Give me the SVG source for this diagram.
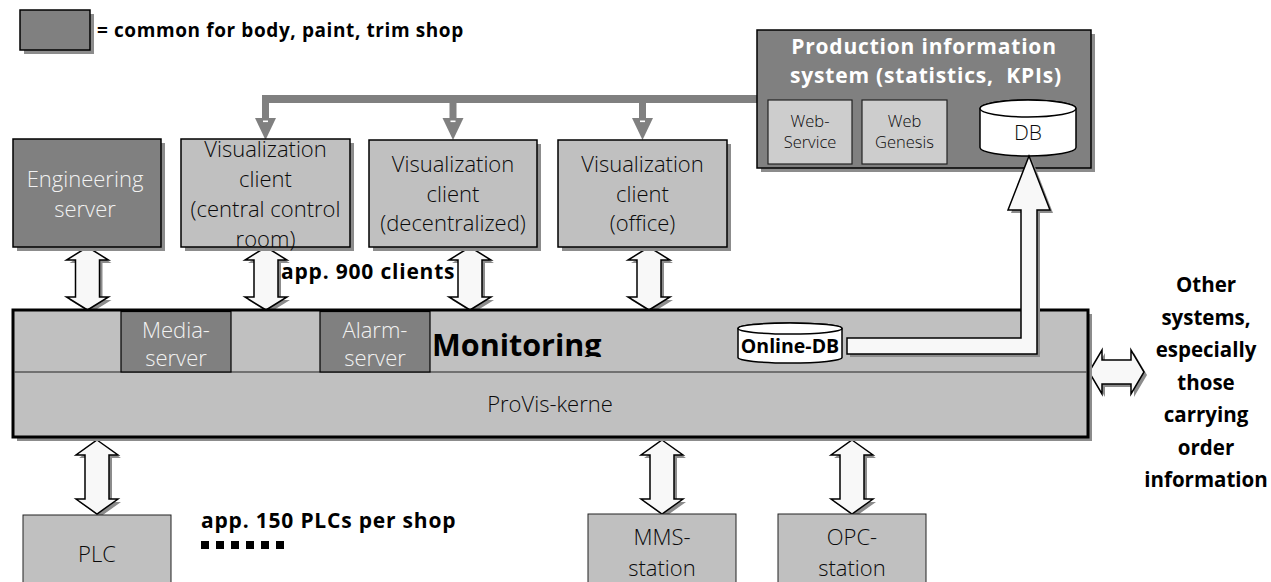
<svg xmlns="http://www.w3.org/2000/svg" width="1271" height="582" viewBox="0 0 1271 582">
  <defs>
    <style>
      .lt { font-family: "Open Sans", "Noto Sans", "Liberation Sans", sans-serif; font-weight: 300; font-size: 22px; fill: #0a0a0a; text-anchor: middle; }
      .lw { font-family: "Open Sans", "Noto Sans", "Liberation Sans", sans-serif; font-weight: 300; font-size: 22px; fill: #f2f2f2; text-anchor: middle; }
      .bd { font-family: "Open Sans", "Noto Sans", "Liberation Sans", sans-serif; font-weight: 700; fill: #000; }
      .sm { font-family: "Open Sans", "Noto Sans", "Liberation Sans", sans-serif; font-weight: 300; font-size: 16.5px; fill: #0a0a0a; text-anchor: middle; }
      .box { fill: #c0c0c0; stroke: #000; stroke-width: 1.5; }
      .dark { fill: #808080; stroke: #000; stroke-width: 1.5; }
      .inner { fill: #cdcdcd; stroke: #222; stroke-width: 1.2; }
      .shadow { fill: #8c8c8c; }
      .plain { fill: #c0c0c0; stroke: #222; stroke-width: 1; }
      .arrow { fill: #f8f8f8; stroke: #000; stroke-width: 1.5; stroke-linejoin: miter; }
      .bus { fill: #808080; }
    </style>
    <clipPath id="monClip">
      <rect x="420" y="312" width="300" height="45"/>
    </clipPath>
  </defs>

  <!-- legend -->
  <g id="legend">
    <rect class="shadow" x="24" y="14" width="70" height="40"/>
    <rect class="dark" x="20" y="10" width="70" height="40"/>
    <text class="bd" x="97" y="37" font-size="19" letter-spacing="0.6">= common for body, paint, trim shop</text>
  </g>

  <!-- connectors -->
  <g id="connectors">
    <!-- distribution bus from the production information system -->
    <rect class="bus" x="262" y="95" width="497" height="8"/>
    <rect class="bus" x="262" y="95" width="7" height="25"/>
    <polygon class="bus" points="255,118 276,118 265.5,140"/>
    <rect x="263" y="120.5" width="5" height="1.6" fill="#fff"/>
    <rect class="bus" x="449.5" y="95" width="7" height="25"/>
    <polygon class="bus" points="442.5,118 463.5,118 453,140"/>
    <rect x="450.5" y="120.5" width="5" height="1.6" fill="#fff"/>
    <rect class="bus" x="639" y="95" width="7" height="25"/>
    <polygon class="bus" points="632,118 653,118 642.5,140"/>
    <rect x="640" y="120.5" width="5" height="1.6" fill="#fff"/>

    <!-- double arrows between clients and monitoring -->
    <g id="arr-eng">
      <path class="shadow" transform="translate(3,3)" d="M87.5,247 L108.5,260 L99.5,260 L99.5,297 L108.5,297 L87.5,310 L66.5,297 L75.5,297 L75.5,260 L66.5,260 Z"/>
      <path class="arrow" d="M87.5,247 L108.5,260 L99.5,260 L99.5,297 L108.5,297 L87.5,310 L66.5,297 L75.5,297 L75.5,260 L66.5,260 Z"/>
    </g>
    <g id="arr-central">
      <path class="shadow" transform="translate(3,3)" d="M266,247 L287,260 L278,260 L278,297 L287,297 L266,310 L245,297 L254,297 L254,260 L245,260 Z"/>
      <path class="arrow" d="M266,247 L287,260 L278,260 L278,297 L287,297 L266,310 L245,297 L254,297 L254,260 L245,260 Z"/>
    </g>
    <g id="arr-decentral">
      <path class="shadow" transform="translate(3,3)" d="M470,247 L491,260 L482,260 L482,297 L491,297 L470,310 L449,297 L458,297 L458,260 L449,260 Z"/>
      <path class="arrow" d="M470,247 L491,260 L482,260 L482,297 L491,297 L470,310 L449,297 L458,297 L458,260 L449,260 Z"/>
    </g>
    <g id="arr-office">
      <path class="shadow" transform="translate(3,3)" d="M649,247 L670,260 L661,260 L661,297 L670,297 L649,310 L628,297 L637,297 L637,260 L628,260 Z"/>
      <path class="arrow" d="M649,247 L670,260 L661,260 L661,297 L670,297 L649,310 L628,297 L637,297 L637,260 L628,260 Z"/>
    </g>

    <!-- double arrows to field level -->
    <g id="arr-plc">
      <path class="shadow" transform="translate(3,3)" d="M97,440 L118,455 L109,455 L109,499 L118,499 L97,514 L76,499 L85,499 L85,455 L76,455 Z"/>
      <path class="arrow" d="M97,440 L118,455 L109,455 L109,499 L118,499 L97,514 L76,499 L85,499 L85,455 L76,455 Z"/>
    </g>
    <g id="arr-mms">
      <path class="shadow" transform="translate(3,3)" d="M662,440 L683,455 L674,455 L674,499 L683,499 L662,514 L641,499 L650,499 L650,455 L641,455 Z"/>
      <path class="arrow" d="M662,440 L683,455 L674,455 L674,499 L683,499 L662,514 L641,499 L650,499 L650,455 L641,455 Z"/>
    </g>
    <g id="arr-opc">
      <path class="shadow" transform="translate(3,3)" d="M852,440 L873,455 L864,455 L864,499 L873,499 L852,514 L831,499 L840,499 L840,455 L831,455 Z"/>
      <path class="arrow" d="M852,440 L873,455 L864,455 L864,499 L873,499 L852,514 L831,499 L840,499 L840,455 L831,455 Z"/>
    </g>

    <!-- double arrow to other systems -->
    <g id="arr-other">
      <path class="shadow" transform="translate(3,3)" d="M1089,372 L1102,350 L1102,360 L1131,360 L1131,350 L1144,372 L1131,394 L1131,384 L1102,384 L1102,394 Z"/>
      <path class="arrow" d="M1089,372 L1102,350 L1102,360 L1131,360 L1131,350 L1144,372 L1131,394 L1131,384 L1102,384 L1102,394 Z"/>
    </g>
  </g>

  <!-- engineering server -->
  <g id="engineering-server">
    <rect class="shadow" x="17" y="143" width="148" height="108"/>
    <rect class="dark" x="13" y="139" width="148" height="108"/>
    <text class="lw" x="85" y="187">Engineering</text>
    <text class="lw" x="85" y="217">server</text>
  </g>

  <!-- visualization clients -->
  <g id="vis-central">
    <rect class="shadow" x="185" y="143" width="169" height="108"/>
    <rect class="box" x="181" y="139" width="169" height="108"/>
    <text class="lt" x="265.5" y="157">Visualization</text>
    <text class="lt" x="265.5" y="187">client</text>
    <text class="lt" x="265.5" y="217">(central control</text>
    <text class="lt" x="265.5" y="247">room)</text>
  </g>
  <g id="vis-decentral">
    <rect class="shadow" x="373" y="144" width="168" height="107"/>
    <rect class="box" x="369" y="140" width="168" height="107"/>
    <text class="lt" x="453" y="172">Visualization</text>
    <text class="lt" x="453" y="202">client</text>
    <text class="lt" x="453" y="231">(decentralized)</text>
  </g>
  <g id="vis-office">
    <rect class="shadow" x="562" y="144" width="169" height="107"/>
    <rect class="box" x="558" y="140" width="169" height="107"/>
    <text class="lt" x="642.5" y="172">Visualization</text>
    <text class="lt" x="642.5" y="202">client</text>
    <text class="lt" x="642.5" y="231">(office)</text>
  </g>

  <text id="clients-note" class="bd" x="281" y="279" font-size="21" letter-spacing="0.8">app. 900 clients</text>

  <!-- production information system -->
  <g id="pis">
    <rect class="shadow" x="761" y="34" width="334" height="138"/>
    <rect class="dark" x="757" y="30" width="334" height="138"/>
    <text class="bd" x="924" y="54" font-size="21" letter-spacing="0.8" text-anchor="middle" style="fill:#fff">Production information</text>
    <text class="bd" x="926" y="83" font-size="21" letter-spacing="0.8" text-anchor="middle" style="fill:#fff">system (statistics,&#160; KPIs)</text>
    <g id="web-service">
      <rect class="inner" x="768" y="100" width="84" height="64"/>
      <text class="sm" x="810" y="127">Web-</text>
      <text class="sm" x="810" y="148">Service</text>
    </g>
    <g id="web-genesis">
      <rect class="inner" x="862" y="100" width="85" height="64"/>
      <text class="sm" x="904.5" y="127">Web</text>
      <text class="sm" x="904.5" y="148">Genesis</text>
    </g>
    <g id="db">
      <path d="M980,108.5 V147.5 A48,8.5 0 0 0 1076,147.5 V108.5 A48,8.5 0 0 0 980,108.5 Z" fill="#fff" stroke="#000" stroke-width="1.5"/>
      <ellipse cx="1028" cy="108.5" rx="48" ry="8.5" fill="#fff" stroke="#000" stroke-width="1.5"/>
      <text class="lt" x="1028" y="140" style="font-size:21px">DB</text>
    </g>
  </g>

  <!-- monitoring / ProVis core -->
  <g id="monitoring">
    <rect class="shadow" x="17" y="314" width="1075" height="127"/>
    <rect x="13" y="310" width="1075" height="127" fill="#c0c0c0" stroke="#000" stroke-width="3"/>
    <line x1="14.5" y1="372" x2="1086.5" y2="372" stroke="#222" stroke-width="1.2"/>
    <g id="media-server">
      <rect class="dark" x="121" y="311.5" width="110" height="60.5" style="stroke-width:1.2"/>
      <text class="lw" x="176" y="338">Media-</text>
      <text class="lw" x="176" y="366">server</text>
    </g>
    <g id="alarm-server">
      <rect class="dark" x="320" y="311.5" width="110" height="60.5" style="stroke-width:1.2"/>
      <text class="lw" x="375" y="338">Alarm-</text>
      <text class="lw" x="375" y="366">server</text>
    </g>
    <text class="bd" x="432" y="356" font-size="30.5" clip-path="url(#monClip)">Monitoring</text>
    <text class="lt" x="550" y="412">ProVis-kerne</text>
  </g>

  <!-- online database feeding the information system -->
  <g id="online-db">
    <path d="M738,328.5 V357.5 A52,5.5 0 0 0 842,357.5 V328.5 A52,5.5 0 0 0 738,328.5 Z" fill="#fff" stroke="#000" stroke-width="1.5"/>
    <ellipse cx="790" cy="328.5" rx="52" ry="5.5" fill="#fff" stroke="#000" stroke-width="1.5"/>
    <text class="bd" x="790" y="353" font-size="19.5" text-anchor="middle">Online-DB</text>
  </g>
  <g id="db-feed">
    <path class="shadow" transform="translate(3,3)" d="M847,338 L1021,338 L1021,210 L1008,210 L1029,156 L1050,210 L1037,210 L1037,354 L847,354 Z"/>
    <path class="arrow" d="M847,338 L1021,338 L1021,210 L1008,210 L1029,156 L1050,210 L1037,210 L1037,354 L847,354 Z"/>
  </g>

  <!-- other systems -->
  <g id="other-systems" class="bd" font-size="20.5" text-anchor="middle">
    <text x="1206" y="292">Other</text>
    <text x="1206" y="324.5">systems,</text>
    <text x="1206" y="357">especially</text>
    <text x="1206" y="389.5">those</text>
    <text x="1206" y="422">carrying</text>
    <text x="1206" y="454.5">order</text>
    <text x="1206" y="487">information</text>
  </g>

  <!-- field level -->
  <g id="plc">
    <rect class="plain" x="23" y="515" width="148" height="80"/>
    <text class="lt" x="97" y="562">PLC</text>
  </g>
  <g id="plc-note">
    <text class="bd" x="201" y="528" font-size="21" letter-spacing="0.8">app. 150 PLCs per shop</text>
    <rect x="201" y="541" width="8" height="8" fill="#000"/>
    <rect x="216" y="541" width="8" height="8" fill="#000"/>
    <rect x="231" y="541" width="8" height="8" fill="#000"/>
    <rect x="246" y="541" width="8" height="8" fill="#000"/>
    <rect x="261" y="541" width="8" height="8" fill="#000"/>
    <rect x="276" y="541" width="8" height="8" fill="#000"/>
  </g>
  <g id="mms-station">
    <rect class="plain" x="588" y="514" width="148" height="80"/>
    <text class="lt" x="662" y="545">MMS-</text>
    <text class="lt" x="662" y="576">station</text>
  </g>
  <g id="opc-station">
    <rect class="plain" x="778" y="514" width="148" height="80"/>
    <text class="lt" x="852" y="545">OPC-</text>
    <text class="lt" x="852" y="576">station</text>
  </g>
</svg>
